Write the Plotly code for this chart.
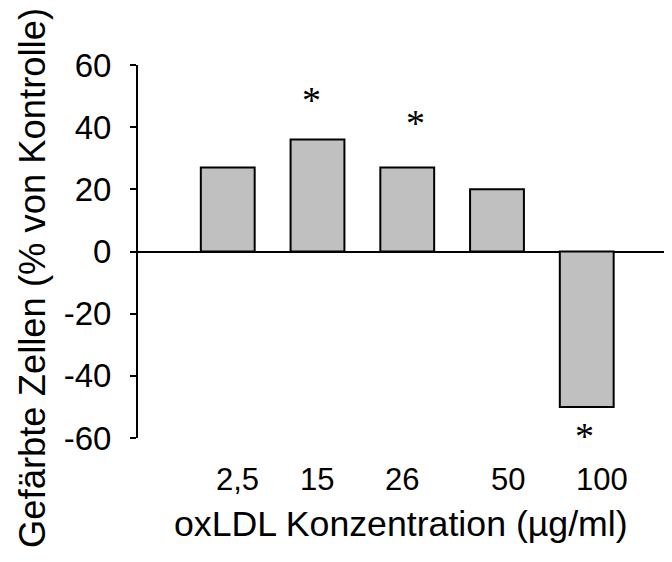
import plotly.graph_objects as go

categories = ["2,5", "15", "26", "50", "100"]
values = [27, 36, 27, 20, -50]
significant = [False, True, True, False, True]

x_title = "oxLDL Konzentration (µg/ml)"
y_title = "Gefärbte Zellen (% von Kontrolle)"
y_ticks = [-60, -40, -20, 0, 20, 40, 60]
y_ticktext = ["-60", "-40", "-20", "0", "20", "40", "60"]

# style-only offsets (px)
label_xshift = [10, -1, -5, 11, 15]
star_xshift = [0, -6, 8, 0, -2]
star_yshift = [0, 40, 45, 0, -29]

FONT = "Liberation Sans, Arial, sans-serif"
SERIF = "Liberation Serif, Times New Roman, serif"

fig = go.Figure()
fig.add_trace(go.Bar(
    x=categories, y=values, width=0.6,
    marker=dict(color="#c0c0c0", line=dict(color="black", width=2)),
    showlegend=False, hoverinfo="skip",
))

annotations = []
for i, c in enumerate(categories):
    annotations.append(dict(
        x=i, xref="x", y=0, yref="paper", yanchor="top", yshift=-22,
        xshift=label_xshift[i], text=c, showarrow=False,
        font=dict(family=FONT, size=31, color="black"),
    ))
for i, (v, s) in enumerate(zip(values, significant)):
    if not s:
        continue
    annotations.append(dict(
        x=i, xref="x", y=v, yref="y", yanchor="middle",
        xshift=star_xshift[i], yshift=star_yshift[i],
        text="*", showarrow=False,
        font=dict(family=SERIF, size=38, color="black"),
    ))

# axis titles
annotations.append(dict(
    x=0.4934, xref="paper", y=0, yref="paper", yanchor="top", yshift=-64,
    text=x_title, showarrow=False,
    font=dict(family=FONT, size=35.7, color="black"),
))
annotations.append(dict(
    x=-0.1966, xref="paper", y=0.429, yref="paper",
    xanchor="center", yanchor="middle", textangle=-90,
    text=y_title, showarrow=False,
    font=dict(family=FONT, size=36.4, color="black"),
))

fig.update_layout(
    width=664, height=554,
    margin=dict(l=130, r=0, t=57, b=124),
    plot_bgcolor="white", paper_bgcolor="white",
    font=dict(family=FONT, color="black"),
    xaxis=dict(
        type="category", range=[-1, 4.95], showticklabels=False,
        showline=False, showgrid=False, ticks="", zeroline=False,
    ),
    yaxis=dict(
        range=[-60, 60], tickvals=y_ticks, ticktext=y_ticktext, showgrid=False,
        showline=True, linecolor="black", linewidth=2,
        ticks="outside", ticklen=6, tickwidth=2, tickcolor="black",
        tickfont=dict(size=33), ticklabelstandoff=12,
        zeroline=True, zerolinecolor="black", zerolinewidth=2,
    ),
    annotations=annotations,
)

fig.write_html("out.html")
